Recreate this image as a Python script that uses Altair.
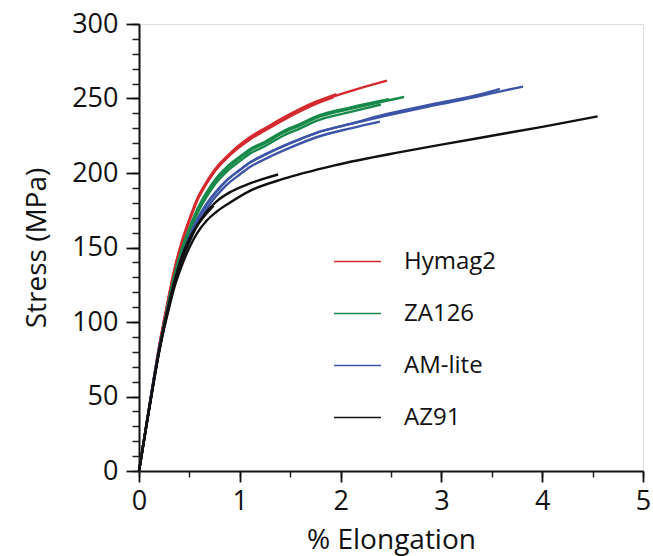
import altair as alt
import pandas as pd

# ---- data ----
ALLOYS = ["Hymag2", "ZA126", "AM-lite", "AZ91"]
COLORS = ["#d42a2f", "#17894a", "#3d55a6", "#111111"]

# Hymag2 specimens
H1_X = [0, 0.1, 0.2, 0.25, 0.3, 0.35, 0.42, 0.5, 0.58, 0.67, 0.76, 0.87, 1.0, 1.1, 1.25, 1.43, 1.6, 1.76, 2.1, 2.46]
H1_Y = [0, 42, 83, 101, 118, 134, 152, 168, 182, 193, 202, 210, 218, 223, 229, 236, 242, 247, 255, 262]
H2_X = [0, 0.1, 0.2, 0.25, 0.3, 0.35, 0.42, 0.5, 0.58, 0.67, 0.76, 0.87, 1.0, 1.1, 1.25, 1.43, 1.6, 1.76, 1.96]
H2_Y = [0, 42, 84, 102, 119, 135, 153, 169, 183, 194, 203, 211, 219, 224, 230, 237, 243, 248, 253]
H3_X = [0, 0.1, 0.2, 0.25, 0.3, 0.35, 0.42, 0.5, 0.58, 0.67, 0.76, 0.87, 1.0, 1.1, 1.25, 1.43, 1.6, 1.76, 1.93]
H3_Y = [0, 42, 83, 101, 118, 134, 152, 168, 182, 193, 202, 210, 217.5, 222.5, 228.5, 235.5, 241.5, 246.5, 251]

# ZA126 specimens
Z1_X = [0, 0.1, 0.2, 0.25, 0.3, 0.35, 0.42, 0.5, 0.58, 0.67, 0.76, 0.87, 1.0, 1.1, 1.25, 1.43, 1.6, 1.76, 2.1, 2.42, 2.63]
Z1_Y = [0, 42, 82, 99, 115, 130, 147, 162, 175, 186, 195, 203, 210, 215, 220, 227, 232, 237, 243, 248, 251]
Z2_X = [0, 0.1, 0.2, 0.25, 0.3, 0.35, 0.42, 0.5, 0.58, 0.67, 0.76, 0.87, 1.0, 1.1, 1.25, 1.43, 1.6, 1.76, 2.1, 2.48]
Z2_Y = [0, 42, 82, 99, 116, 131, 148, 163, 176, 187, 196, 204, 211, 216, 221, 228, 233, 238, 244, 249.5]
Z3_X = [0, 0.1, 0.2, 0.25, 0.3, 0.35, 0.42, 0.5, 0.58, 0.67, 0.76, 0.87, 1.0, 1.1, 1.25, 1.43, 1.6, 1.76, 2.1, 2.4]
Z3_Y = [0, 42, 81, 98, 114, 129, 146, 160, 173, 184, 193, 201, 208, 213, 218, 225, 230, 235, 241, 246]

# AM-lite specimens
A1_X = [0, 0.1, 0.2, 0.25, 0.3, 0.35, 0.42, 0.5, 0.58, 0.67, 0.76, 0.87, 1.0, 1.1, 1.27, 1.5, 1.76, 2.1, 2.42, 2.9, 3.4, 3.6, 3.81]
A1_Y = [0, 42, 82, 98, 113, 127, 143, 157, 169, 179, 187, 195, 202, 207, 213, 220, 227, 233, 238, 245, 252, 255, 258]
A2_X = [0, 0.1, 0.2, 0.25, 0.3, 0.35, 0.42, 0.5, 0.58, 0.67, 0.76, 0.87, 1.0, 1.1, 1.27, 1.5, 1.76, 2.1, 2.42, 2.9, 3.4, 3.58]
A2_Y = [0, 42, 82, 98, 113, 127, 143, 157, 169, 179, 187, 195, 202, 207, 213, 220, 227, 233, 239, 246, 253, 256.5]
A3_X = [0, 0.1, 0.2, 0.25, 0.3, 0.35, 0.42, 0.5, 0.58, 0.67, 0.76, 0.87, 1.0, 1.1, 1.27, 1.5, 1.76, 2.1, 2.39]
A3_Y = [0, 42, 81, 97, 111, 125, 141, 154, 166, 176, 184, 192, 199, 204, 210, 217, 224, 230, 234.5]

# AZ91 specimens
K1_X = [0, 0.1, 0.2, 0.25, 0.3, 0.35, 0.42, 0.5, 0.58, 0.67, 0.77, 0.9, 1.1, 1.43, 1.93, 2.59, 3.0, 3.5, 4.0, 4.55]
K1_Y = [0, 41, 80, 96, 110, 123, 137, 150, 160, 168, 174, 180, 188, 196, 205, 214, 219, 225, 231, 238]
K2_X = [0, 0.1, 0.2, 0.25, 0.3, 0.35, 0.42, 0.5, 0.58, 0.67, 0.77, 0.9, 1.1, 1.38]
K2_Y = [0, 41, 80, 97, 112, 126, 141, 154, 165, 174, 181, 187, 193, 199]
K3_X = [0, 0.1, 0.2, 0.25, 0.3, 0.35, 0.42, 0.5, 0.58, 0.66, 0.74]
K3_Y = [0, 42, 81, 98, 113, 127, 143, 156, 165, 172, 178]

SPECIMENS = [
    ("Hymag2", "H1", H1_X, H1_Y), ("Hymag2", "H2", H2_X, H2_Y), ("Hymag2", "H3", H3_X, H3_Y),
    ("ZA126", "Z1", Z1_X, Z1_Y), ("ZA126", "Z2", Z2_X, Z2_Y), ("ZA126", "Z3", Z3_X, Z3_Y),
    ("AM-lite", "A1", A1_X, A1_Y), ("AM-lite", "A2", A2_X, A2_Y), ("AM-lite", "A3", A3_X, A3_Y),
    ("AZ91", "K1", K1_X, K1_Y), ("AZ91", "K2", K2_X, K2_Y), ("AZ91", "K3", K3_X, K3_Y),
]

X_MAJOR = [0, 1, 2, 3, 4, 5]
X_MINOR = [0, 0.5, 1, 1.5, 2, 2.5, 3, 3.5, 4, 4.5, 5]
Y_MAJOR = [0, 50, 100, 150, 200, 250, 300]
Y_MINOR = list(range(0, 301, 10))

rows = []
for alloy, sid, xs, ys in SPECIMENS:
    assert len(xs) == len(ys), sid
    for i, (a, b) in enumerate(zip(xs, ys)):
        rows.append({"alloy": alloy, "specimen": sid, "strain": a, "stress": b, "order": i})
df = pd.DataFrame(rows)

FONT = "Open Sans"
xscale = alt.Scale(domain=[0, 5], nice=False, zero=True)
yscale = alt.Scale(domain=[0, 300], nice=False, zero=True)

base = alt.Chart(df)

minor = base.mark_line(opacity=0).encode(
    x=alt.X("strain:Q", scale=xscale,
            axis=alt.Axis(orient="bottom", values=X_MINOR, labels=False, title=None,
                          domain=False, grid=False, tickSize=6, tickColor="#222",
                          tickWidth=1.5)),
    y=alt.Y("stress:Q", scale=yscale,
            axis=alt.Axis(orient="left", values=Y_MINOR, labels=False, title=None,
                          domain=False, grid=False, tickSize=7, tickColor="#222",
                          tickWidth=1.5)),
    detail="specimen:N",
    order="order:Q",
)

lines = base.mark_line(strokeWidth=2.4, interpolate="monotone").encode(
    x=alt.X("strain:Q", scale=xscale,
            axis=alt.Axis(orient="bottom", values=X_MAJOR, title="% Elongation",
                          format="d", grid=False, tickSize=11, tickColor="#111",
                          tickWidth=1.8, domainColor="#111", domainWidth=2,
                          labelFontSize=27, labelFont=FONT, labelColor="#111",
                          labelPadding=6, labelFlush=False, titleFontSize=28,
                          titleFont=FONT, titleFontWeight="normal", titleColor="#111",
                          titlePadding=12)),
    y=alt.Y("stress:Q", scale=yscale,
            axis=alt.Axis(orient="left", values=Y_MAJOR, title="Stress (MPa)",
                          format="d", grid=False, tickSize=13, tickColor="#111",
                          tickWidth=1.8, domainColor="#111", domainWidth=2,
                          labelFontSize=27, labelFont=FONT, labelColor="#111",
                          labelPadding=8, titleFontSize=28, titleFont=FONT,
                          titleFontWeight="normal", titleColor="#111", titlePadding=20)),
    color=alt.Color("alloy:N", scale=alt.Scale(domain=ALLOYS, range=COLORS),
                    legend=alt.Legend(title=None, orient="none", legendX=194, legendY=213,
                                      symbolType="stroke", symbolSize=2209,
                                      symbolStrokeWidth=1.6, labelFontSize=24,
                                      labelFont=FONT, labelColor="#111", labelOffset=22,
                                      rowPadding=15)),
    detail="specimen:N",
    order="order:Q",
)

chart = alt.layer(minor, lines).resolve_axis(x="independent", y="independent").properties(
    width=504,
    height=447,
    autosize=alt.AutoSizeParams(type="none"),
    padding={"left": 139, "top": 24, "right": 10, "bottom": 85},
).configure_view(stroke="#111", strokeWidth=2).configure(background="white")

chart.save("out.html", embed_options={"renderer": "svg", "actions": False})
